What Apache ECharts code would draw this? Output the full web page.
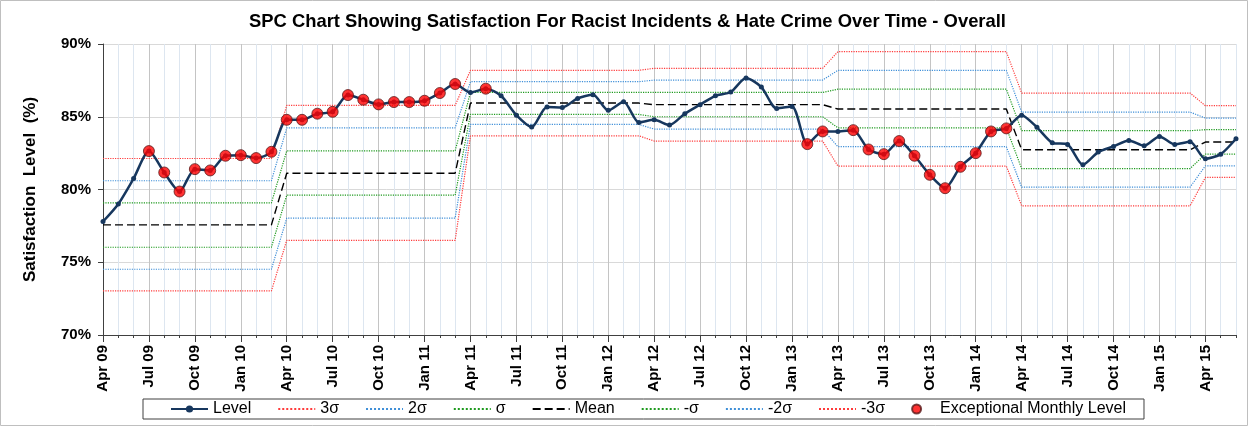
<!DOCTYPE html>
<html>
<head>
<meta charset="utf-8">
<script src="https://cdn.jsdelivr.net/npm/echarts@6/dist/echarts.min.js"></script>
<style>
html,body{margin:0;padding:0;background:#fff;}
#chart{width:1255px;height:427px;}
</style>
</head>
<body>
<div id="chart"></div>
<script>
const months = [
"Apr 09","May 09","Jun 09","Jul 09","Aug 09","Sep 09","Oct 09","Nov 09","Dec 09","Jan 10","Feb 10","Mar 10",
"Apr 10","May 10","Jun 10","Jul 10","Aug 10","Sep 10","Oct 10","Nov 10","Dec 10","Jan 11","Feb 11","Mar 11",
"Apr 11","May 11","Jun 11","Jul 11","Aug 11","Sep 11","Oct 11","Nov 11","Dec 11","Jan 12","Feb 12","Mar 12",
"Apr 12","May 12","Jun 12","Jul 12","Aug 12","Sep 12","Oct 12","Nov 12","Dec 12","Jan 13","Feb 13","Mar 13",
"Apr 13","May 13","Jun 13","Jul 13","Aug 13","Sep 13","Oct 13","Nov 13","Dec 13","Jan 14","Feb 14","Mar 14",
"Apr 14","May 14","Jun 14","Jul 14","Aug 14","Sep 14","Oct 14","Nov 14","Dec 14","Jan 15","Feb 15","Mar 15",
"Apr 15","May 15","Jun 15"
];

const level = [
77.80,79.01,80.76,82.64,81.17,79.86,81.40,81.31,82.32,82.36,82.16,82.59,
84.79,84.79,85.21,85.34,86.49,86.17,85.85,86.01,86.01,86.10,86.63,87.25,
86.67,86.93,86.44,85.11,84.29,85.67,85.64,86.26,86.51,85.44,86.03,84.61,
84.79,84.43,85.21,85.83,86.44,86.70,87.66,87.04,85.57,85.71,83.12,83.99,
83.99,84.08,82.75,82.43,83.33,82.32,81.01,80.09,81.56,82.50,83.99,84.20,
85.11,84.27,83.21,83.10,81.70,82.57,82.96,83.37,83.00,83.65,83.10,83.28,
82.11,82.43,83.49
];

// indices of months flagged as exceptional
const exceptionalIdx = [3,4,5,6,7,8,9,10,11,12,13,14,15,16,17,18,19,20,21,22,23,25,46,47,49,50,51,52,53,54,55,56,57,58,59];

// control limit periods (number of months in each)
const periodLengths = [12,12,12,12,12,12,3];
const plus3  = [82.13,85.78,88.19,88.33,89.47,86.63,85.76];
const plus2  = [80.60,84.24,87.41,87.52,88.19,85.32,84.91];
const plus1  = [79.08,82.66,86.67,86.67,86.90,84.04,84.11];
const meanL  = [77.57,81.12,85.94,85.83,85.53,82.73,83.26];
const minus1 = [76.03,79.61,85.16,85.00,84.24,81.44,82.43];
const minus2 = [74.52,78.03,84.47,84.15,82.94,80.16,81.63];
const minus3 = [73.03,76.51,83.69,83.33,81.61,78.88,80.83];

const yTicks = [70,75,80,85,90];

function expand(vals){
  const out = [];
  periodLengths.forEach((n,p)=>{ for(let k=0;k<n;k++) out.push(vals[p]); });
  return out;
}
const exSet = new Set(exceptionalIdx);
const exData = level.map((v,i)=> exSet.has(i) ? v : '-');

const FONT = '"Liberation Sans", Arial, sans-serif';
const RED = '#FF3B3B', BLUE = '#3F8FD8', GREEN = '#1E9A1E';

function limitSeries(name, vals, color, type, width){
  return {
    name: name, type: 'line', data: expand(vals), symbol: 'none',
    xAxisIndex: 0, yAxisIndex: 0,
    lineStyle: {color: color, width: width || 1.2, type: type},
    itemStyle: {color: color},
    emphasis: {disabled: true}, silent: true, z: 2, animation: false
  };
}
const noSym = {opacity: 0};

const chart = echarts.init(document.getElementById('chart'), null, {renderer: 'canvas'});
chart.setOption({
  animation: false,
  backgroundColor: '#fff',
  title: {
    text: 'SPC Chart Showing Satisfaction For Racist Incidents & Hate Crime Over Time - Overall',
    left: 'center', top: 8,
    textStyle: {fontFamily: FONT, fontSize: 18.4, fontWeight: 'bold', color: '#000'}
  },
  graphic: [{
    type: 'rect', shape: {x: 0.5, y: 0.5, width: 1247, height: 425},
    style: {fill: 'none', stroke: '#BFBFBF', lineWidth: 1}, silent: true, z: -1
  }],
  legend: {
    left: 143, top: 399,
    itemWidth: 37, itemHeight: 9, itemGap: 26,
    padding: [2, 18, 2, 27],
    borderColor: '#404040', borderWidth: 1,
    textStyle: {fontFamily: FONT, fontSize: 16, color: '#000'},
    data: [
      {name: 'Level', itemStyle: {}},
      {name: '3σ', itemStyle: noSym},
      {name: '2σ', itemStyle: noSym},
      {name: 'σ', itemStyle: noSym},
      {name: 'Mean', itemStyle: noSym},
      {name: '-σ', itemStyle: noSym},
      {name: '-2σ', itemStyle: noSym},
      {name: '-3σ', itemStyle: noSym},
      {name: 'Exceptional Monthly Level'}
    ]
  },
  grid: {left: 103, right: 19, top: 44, bottom: 92},
  xAxis: [{
    type: 'category', data: months, boundaryGap: false,
    axisLine: {lineStyle: {color: '#404040', width: 1}},
    axisTick: {interval: 0, length: 3, lineStyle: {color: '#404040'}},
    axisLabel: {interval: 2, rotate: 90, margin: 10, fontFamily: FONT, fontSize: 15, fontWeight: 'bold', color: '#000'},
    splitLine: {show: true, interval: 0, lineStyle: {color: '#DDE6F0', width: 1}}
  },{
    type: 'category', data: months, boundaryGap: false, position: 'bottom',
    axisLine: {show: false},
    axisTick: {interval: 2, length: 7, lineStyle: {color: '#404040'}},
    axisLabel: {show: false},
    splitLine: {show: true, interval: 2, lineStyle: {color: '#C4C4C4', width: 1}}
  }],
  yAxis: {
    type: 'value', min: yTicks[0], max: yTicks[yTicks.length-1], interval: 5,
    name: 'Satisfaction  Level  (%)', nameLocation: 'middle', nameGap: 64, nameRotate: 90,
    nameTextStyle: {fontFamily: FONT, fontSize: 17, fontWeight: 'bold', color: '#000'},
    axisLine: {show: true, lineStyle: {color: '#404040', width: 1}},
    axisTick: {show: true, length: 5, lineStyle: {color: '#404040'}},
    axisLabel: {formatter: '{value}%', margin: 12, fontFamily: FONT, fontSize: 15, fontWeight: 'bold', color: '#000'},
    splitLine: {show: true, lineStyle: {color: '#D9D9D9', width: 1}}
  },
  series: [
    {
      name: 'Level', type: 'line', data: level, smooth: 0.25,
      symbol: 'circle', symbolSize: 5, showSymbol: true,
      lineStyle: {color: '#17375E', width: 2.5},
      itemStyle: {color: '#17375E'},
      z: 5, animation: false
    },
    limitSeries('3σ', plus3, RED, 'dotted'),
    limitSeries('2σ', plus2, BLUE, 'dotted'),
    limitSeries('σ', plus1, GREEN, 'dotted'),
    limitSeries('Mean', meanL, '#000', [8, 4], 1.4),
    limitSeries('-σ', minus1, GREEN, 'dotted'),
    limitSeries('-2σ', minus2, BLUE, 'dotted'),
    limitSeries('-3σ', minus3, RED, 'dotted'),
    {
      name: 'Exceptional Monthly Level', type: 'scatter', data: exData,
      symbol: 'circle', symbolSize: 11,
      itemStyle: {color: '#FF0000', borderColor: '#5A1A1A', borderWidth: 1},
      z: 6, animation: false
    }
  ]
});
</script>
</body>
</html>
